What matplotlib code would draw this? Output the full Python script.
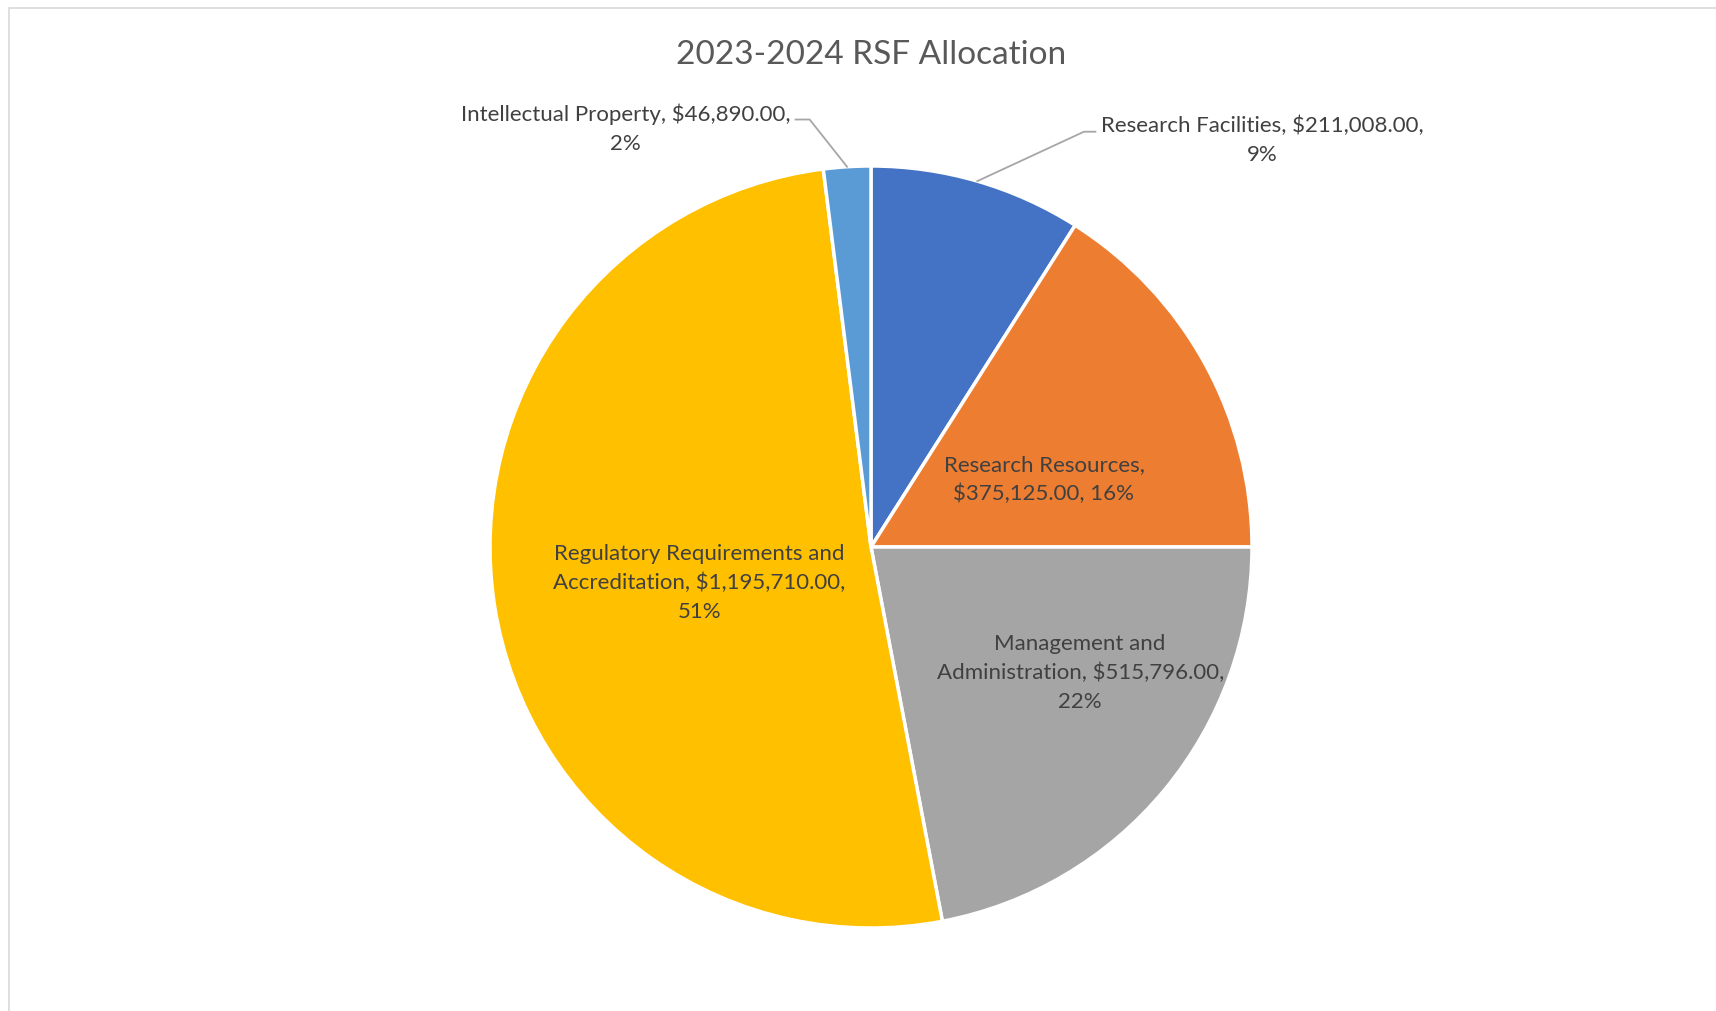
import matplotlib
matplotlib.use("Agg")
import matplotlib.pyplot as plt
from matplotlib.patches import Rectangle
import numpy as np

plt.rcParams['font.family'] = ['Lato', 'DejaVu Sans']

# ---- datos
categories = ["Research Facilities", "Research Resources", "Management and Administration",
              "Regulatory Requirements and Accreditation", "Intellectual Property"]
amounts = [211008.00, 375125.00, 515796.00, 1195710.00, 46890.00]
colors = ["#4472C4", "#ED7D31", "#A5A5A5", "#FFC000", "#5B9BD5"]

# etiquetas tal como aparecen (con saltos de linea)
label_lines = [
    "Research Facilities, $211,008.00,\n9%",
    "Research Resources,\n$375,125.00, 16%",
    "Management and\nAdministration, $515,796.00,\n22%",
    "Regulatory Requirements and\nAccreditation, $1,195,710.00,\n51%",
    "Intellectual Property, $46,890.00,\n2%",
]
# posicion de cada etiqueta (unidades del radio)
label_pos = [(1.026, 1.068), (0.454, 0.176), (0.549, -0.330), (-0.451, -0.094), (-0.644, 1.098)]
# lineas guia: (codo, fin) para las etiquetas de afuera
leaders = {0: [(0.559, 1.090), (0.589, 1.090)], 4: [(-0.161, 1.122), (-0.198, 1.122)]}

W, H = 1716, 1011
fig = plt.figure(figsize=(W / 100, H / 100), dpi=100)
ax = fig.add_axes([0, 0, 1, 1])
cx, cy, R = 871, 547, 381

wedges, _ = ax.pie(amounts, colors=colors, startangle=90, counterclock=False, radius=1,
                   wedgeprops=dict(edgecolor='white', linewidth=2.5))
ax.set_aspect('auto')
ax.set_xlim(-cx / R, (W - cx) / R)
ax.set_ylim((cy - H) / R, cy / R)
ax.axis('off')

for i, w in enumerate(wedges):
    tx, ty = label_pos[i]
    ax.text(tx, ty, label_lines[i], ha='center', va='center', fontsize=16,
            color='#404040', linespacing=1.53)
    if i in leaders:
        ang = np.radians((w.theta1 + w.theta2) / 2)
        pts = [(np.cos(ang), np.sin(ang))] + leaders[i]
        ax.plot([p[0] for p in pts], [p[1] for p in pts], color='#A6A6A6', lw=1.3)

ax.text(0, (cy - 55) / R, "2023-2024 RSF Allocation", ha='center', va='center',
        fontsize=24, color='#595959')

# borde del area del grafico
fig.patches.append(Rectangle((9 / W, -0.1), 1.2, (H - 8) / H + 0.1, transform=fig.transFigure,
                             fill=False, edgecolor='#D9D9D9', lw=1.2))

fig.savefig("out.png", dpi=100)
